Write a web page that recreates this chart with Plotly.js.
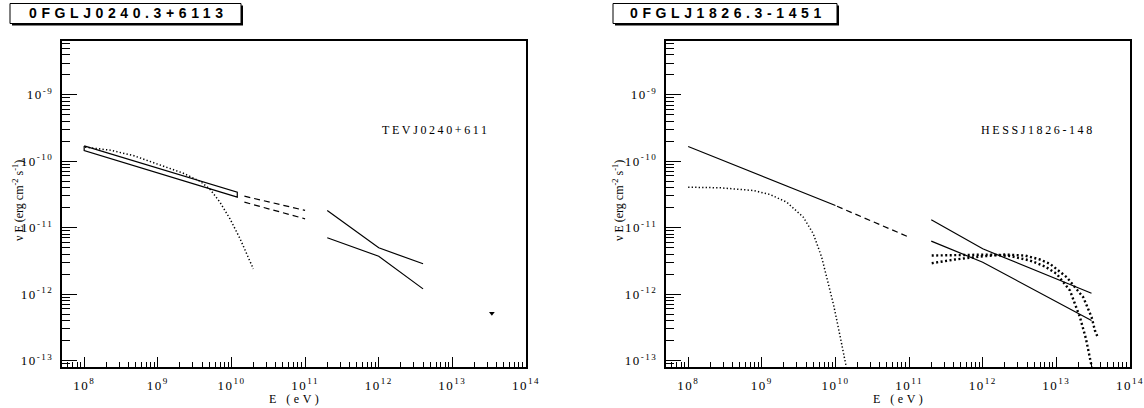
<!DOCTYPE html>
<html><head><meta charset="utf-8">
<script src="https://cdn.plot.ly/plotly-3.0.1.min.js"></script>
<style>
html,body{margin:0;padding:0;background:#fff;}
#chart{width:1144px;height:408px;}
.xaxislayer-above text, .yaxislayer-above text {letter-spacing:1.5px;}
text[data-unformatted^="0FGL"]{letter-spacing:4.6px;}
text[data-unformatted="TEVJ0240+611"], text[data-unformatted="HESSJ1826-148"]{letter-spacing:2.6px;}
text[data-unformatted="E (eV)"]{letter-spacing:3.5px;}
</style></head>
<body><div id="chart"></div>
<script>
// ---------------- data ----------------
const panelTitles = ['0FGLJ0240.3+6113', '0FGLJ1826.3-1451'];
const sourceLabels = ['TEVJ0240+611', 'HESSJ1826-148'];
const xTitle = 'E (eV)';
const yTitle = 'ν E (erg cm<sup>-2</sup> s<sup>-1</sup>)';

const xTickVals = [1e8, 1e9, 1e10, 1e11, 1e12, 1e13, 1e14];
const xTickText = ['10<sup>8</sup>', '10<sup>9</sup>', '10<sup>10</sup>', '10<sup>11</sup>', '10<sup>12</sup>', '10<sup>13</sup>', '10<sup>14</sup>'];
const yTickVals = [1e-13, 1e-12, 1e-11, 1e-10, 1e-9];
const yTickText = ['10<sup>-13</sup>', '10<sup>-12</sup>', '10<sup>-11</sup>', '10<sup>-10</sup>', '10<sup>-9</sup>'];

// left panel: 0FGL J0240.3+6113
const fermiBowE1 = [1e8, 1.2e10];
const fermiBowUp1 = [1.7e-10, 3.43e-11];
const fermiBowLo1 = [1.45e-10, 2.88e-11];
const fermiExtE1 = [1.5e10, 1e11];
const fermiExtUp1 = [2.98e-11, 1.82e-11];
const fermiExtLo1 = [2.42e-11, 1.36e-11];
const fermiCutE1 = [1.03e8, 2.24e8, 4.65e8, 7.83e8, 1.32e9, 2.22e9, 3.74e9, 5.11e9, 6.98e9, 9.55e9, 1.31e10, 1.69e10, 1.98e10];
const fermiCutF1 = [1.63e-10, 1.47e-10, 1.22e-10, 1.0e-10, 8.2e-11, 6.6e-11, 5.0e-11, 3.8e-11, 2.42e-11, 1.36e-11, 6.81e-12, 3.6e-12, 2.4e-12];
const tevE1 = [2e11, 1e12, 4e12];
const tevUp1 = [1.82e-11, 4.98e-12, 2.86e-12];
const tevLo1 = [7.05e-12, 3.72e-12, 1.2e-12];
const ulE1 = [3.44e13];
const ulF1 = [5.15e-13];

// right panel: 0FGL J1826.3-1451
const fermiPlE2 = [1e8, 1e10];
const fermiPlF2 = [1.67e-10, 2.16e-11];
const fermiExtE2 = [1.05e10, 1e11];
const fermiExtF2 = [2.1e-11, 7.2e-12];
const fermiCutE2 = [1.0e8, 2.7e8, 7.66e8, 1.29e9, 2.18e9, 3.66e9, 5.0e9, 6.5e9, 7.6e9, 9.46e9, 1.15e10, 1.42e10];
const fermiCutF2 = [4.07e-11, 3.99e-11, 3.63e-11, 3.16e-11, 2.42e-11, 1.44e-11, 8.1e-12, 3.6e-12, 1.8e-12, 6.8e-13, 2.4e-13, 7.5e-14];
const hessE2 = [2e11, 1e12, 3e13];
const hessUp2 = [1.32e-11, 4.81e-12, 1.03e-12];
const hessLo2 = [6.27e-12, 3.02e-12, 4.0e-13];
const modelAE2 = [2.03e11, 4.91e11, 1.25e12, 2.34e12, 4.38e12, 7.0e12, 1.01e13, 1.53e13, 2.09e13, 2.52e13, 3.1e13];
const modelAF2 = [3.81e-12, 3.91e-12, 3.94e-12, 3.75e-12, 3.21e-12, 2.61e-12, 2.02e-12, 1.13e-12, 4.49e-13, 2.14e-13, 7.0e-14];
const modelBE2 = [2.03e11, 4.2e11, 9.17e11, 2.0e12, 3.74e12, 5.98e12, 8.18e12, 1.38e13, 2.32e13, 3.01e13, 3.34e13, 3.61e13];
const modelBF2 = [2.92e-12, 3.32e-12, 3.68e-12, 3.94e-12, 3.81e-12, 3.32e-12, 2.86e-12, 1.8e-12, 8.97e-13, 4.49e-13, 2.83e-13, 2.3e-13];

// ---------------- helpers ----------------
const W = 1144, H = 408;
const PX = v => v / W, PY = v => 1 - v / H;
const xRange = [Math.log10(5e7), 14];
const yRange = [-13.097, -8.19];
const xMinor = [], yMinor = [];
for (let d = 7; d <= 13; d++) for (let m = 2; m <= 9; m++) {
  const v = m * Math.pow(10, d);
  if (Math.log10(v) > xRange[0] && Math.log10(v) < xRange[1]) xMinor.push(v);
}
for (let d = -14; d <= -9; d++) for (let m = 2; m <= 9; m++) {
  const v = m * Math.pow(10, d);
  if (Math.log10(v) > yRange[0] && Math.log10(v) < yRange[1]) yMinor.push(v);
}
const serif = '"Liberation Serif", "Times New Roman", serif';
const tickFont = {family: serif, size: 13, color: '#000'};

function xAxis(domain, anchor) {
  return {type: 'log', range: xRange, domain: domain, anchor: anchor,
    showline: true, mirror: true, linecolor: '#000', linewidth: 2,
    showgrid: false, zeroline: false, ticks: 'inside', ticklen: 10, tickwidth: 1, tickcolor: '#000',
    tickmode: 'array', tickvals: xTickVals, ticktext: xTickText, tickfont: tickFont,
    ticklabelstandoff: 5,
    minor: {tickmode: 'array', tickvals: xMinor, ticks: 'inside', ticklen: 5, tickwidth: 1, tickcolor: '#000', showgrid: false}};
}
function yAxis(anchor) {
  return {type: 'log', range: yRange, domain: [1 - 367 / H, 1 - 41 / H], anchor: anchor,
    showline: true, mirror: true, linecolor: '#000', linewidth: 2,
    showgrid: false, zeroline: false, ticks: 'inside', ticklen: 15, tickwidth: 1, tickcolor: '#000',
    tickmode: 'array', tickvals: yTickVals, ticktext: yTickText, tickfont: tickFont,
    ticklabelstandoff: 4,
    minor: {tickmode: 'array', tickvals: yMinor, ticks: 'inside', ticklen: 7.5, tickwidth: 1, tickcolor: '#000', showgrid: false}};
}
function line(x, y, xa, ya, dash, width) {
  return {x: x, y: y, xaxis: xa, yaxis: ya, mode: 'lines', hoverinfo: 'skip', showlegend: false,
    line: {color: '#000', width: width || 1.2, dash: dash || 'solid'}};
}

const traces = [
  // left
  line(fermiBowE1.concat(fermiBowE1.slice().reverse(), [fermiBowE1[0]]),
       fermiBowUp1.concat(fermiBowLo1.slice().reverse(), [fermiBowUp1[0]]), 'x', 'y'),
  line(fermiExtE1, fermiExtUp1, 'x', 'y', '6px,4px'),
  line(fermiExtE1, fermiExtLo1, 'x', 'y', '6px,4px'),
  line(fermiCutE1, fermiCutF1, 'x', 'y', '1.3px,2.2px', 1.5),
  line(tevE1, tevUp1, 'x', 'y'),
  line(tevE1, tevLo1, 'x', 'y'),
  {x: ulE1, y: ulF1, xaxis: 'x', yaxis: 'y', mode: 'markers', hoverinfo: 'skip', showlegend: false,
   marker: {symbol: 'triangle-down', size: 5, color: '#000'}},
  // right
  line(fermiPlE2, fermiPlF2, 'x2', 'y2'),
  line(fermiExtE2, fermiExtF2, 'x2', 'y2', '6px,4px'),
  line(fermiCutE2, fermiCutF2, 'x2', 'y2', '1.3px,2.2px', 1.5),
  line(hessE2, hessUp2, 'x2', 'y2'),
  line(hessE2, hessLo2, 'x2', 'y2'),
  line(modelAE2, modelAF2, 'x2', 'y2', '2px,2.5px', 2.4),
  line(modelBE2, modelBF2, 'x2', 'y2', '2px,2.5px', 2.4)
];

const sans = '"Liberation Sans", Arial, sans-serif';
const annotations = [
  {text: panelTitles[0], x: PX(128), y: PY(13.5), xref: 'paper', yref: 'paper', showarrow: false,
   font: {family: sans, size: 14, color: '#000', weight: 'bold'}, xanchor: 'center', yanchor: 'middle'},
  {text: panelTitles[1], x: PX(728), y: PY(13.5), xref: 'paper', yref: 'paper', showarrow: false,
   font: {family: sans, size: 14, color: '#000', weight: 'bold'}, xanchor: 'center', yanchor: 'middle'},
  {text: sourceLabels[0], x: PX(436), y: PY(130), xref: 'paper', yref: 'paper', showarrow: false,
   font: {family: serif, size: 12, color: '#000'}, xanchor: 'center', yanchor: 'middle'},
  {text: sourceLabels[1], x: PX(1038), y: PY(130), xref: 'paper', yref: 'paper', showarrow: false,
   font: {family: serif, size: 12, color: '#000'}, xanchor: 'center', yanchor: 'middle'},
  {text: xTitle, x: PX(295), y: PY(399), xref: 'paper', yref: 'paper', showarrow: false,
   font: {family: serif, size: 12, color: '#000'}, xanchor: 'center', yanchor: 'middle'},
  {text: xTitle, x: PX(899), y: PY(399), xref: 'paper', yref: 'paper', showarrow: false,
   font: {family: serif, size: 12, color: '#000'}, xanchor: 'center', yanchor: 'middle'},
  {text: yTitle, x: PX(18), y: PY(201), xref: 'paper', yref: 'paper', showarrow: false, textangle: -90,
   font: {family: serif, size: 12, color: '#000'}, xanchor: 'center', yanchor: 'middle'},
  {text: yTitle, x: PX(618), y: PY(201), xref: 'paper', yref: 'paper', showarrow: false, textangle: -90,
   font: {family: serif, size: 12, color: '#000'}, xanchor: 'center', yanchor: 'middle'}
];

function box(x0, y0, x1, y1) {
  return [
    {type: 'rect', xref: 'paper', yref: 'paper', x0: PX(x0 + 2), x1: PX(x1 + 2), y0: PY(y1 + 2), y1: PY(y0 + 2),
     fillcolor: '#000', line: {width: 0}, layer: 'below'},
    {type: 'rect', xref: 'paper', yref: 'paper', x0: PX(x0), x1: PX(x1), y0: PY(y1), y1: PY(y0),
     fillcolor: '#fff', line: {color: '#000', width: 1}, layer: 'below'}
  ];
}
const shapes = box(10, 3.5, 241, 23.5).concat(box(613, 3.5, 837, 23.5));

const layout = {
  width: W, height: H, margin: {l: 0, r: 0, t: 0, b: 0},
  paper_bgcolor: '#fff', plot_bgcolor: 'rgba(0,0,0,0)', showlegend: false,
  xaxis: xAxis([62 / W, 526 / W], 'y'),
  yaxis: yAxis('x'),
  xaxis2: xAxis([666 / W, 1130 / W], 'y2'),
  yaxis2: yAxis('x2'),
  annotations: annotations, shapes: shapes
};
Plotly.newPlot('chart', traces, layout, {displayModeBar: false, staticPlot: true});
</script></body></html>
